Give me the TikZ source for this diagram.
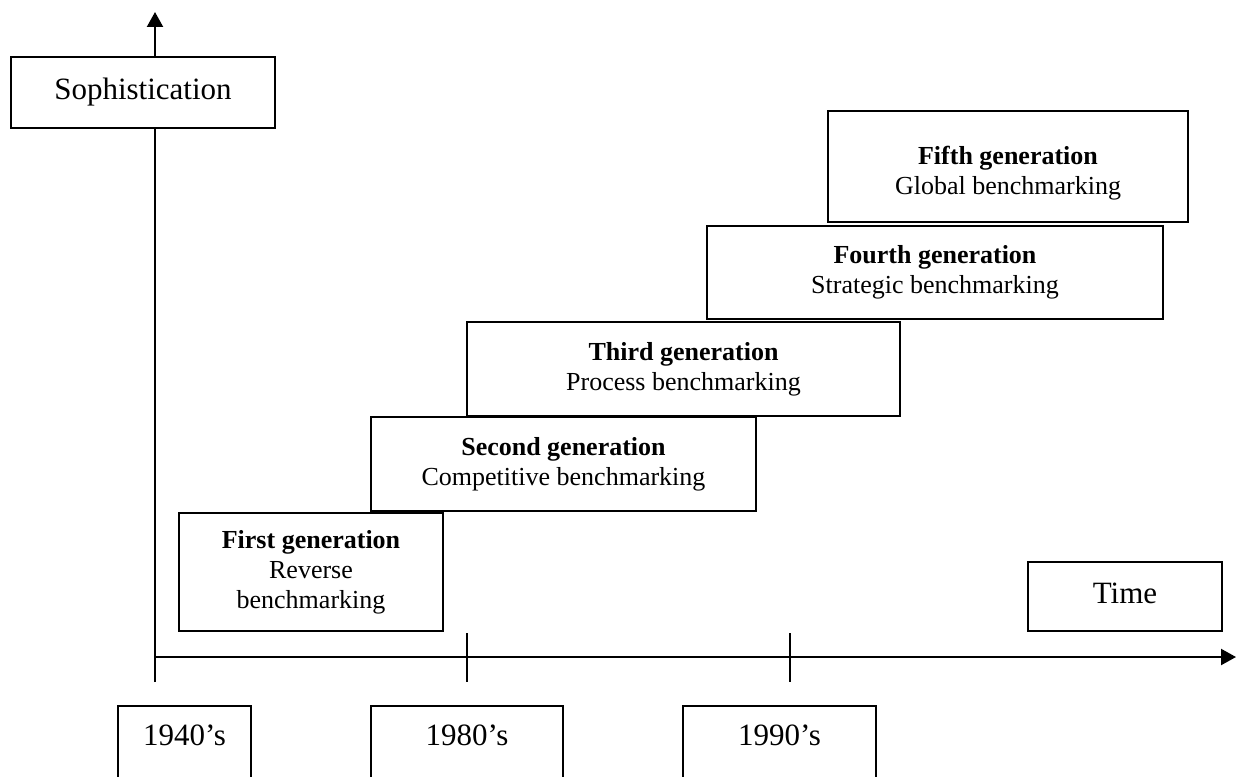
\documentclass[tikz,border=0pt]{standalone}
\usepackage{fontspec}
\setmainfont{Liberation Serif}
\usetikzlibrary{arrows.meta}
\begin{document}
\begin{tikzpicture}[x=1pt,y=-1pt,
  frame/.style={draw, line width=1.8pt, fill=white, inner sep=0pt},
  genbox/.style={frame, align=center, font=\fontsize{26}{30}\selectfont},
  bigbox/.style={frame, font=\fontsize{31}{36}\selectfont, text height=21pt, text depth=7pt},
  yearbox/.style={frame, anchor=north, font=\fontsize{31}{36}\selectfont, text height=40pt, text depth=80pt},
  axisline/.style={line width=2.2pt},
  tickline/.style={line width=2.2pt},
  arrowhead/.style={-{Triangle[length=15pt,width=16pt]}}]
\clip (0,0) rectangle (1236,776);
\fill[white] (0,0) rectangle (1236,776);

% axes and tick marks
\coordinate (origin) at (155,657);
\coordinate (ybot) at (155,682);
\coordinate (ytop) at (155,12);
\coordinate (xend) at (1236,657);
\coordinate (t80top) at (467,633);
\coordinate (t80bot) at (467,682);
\coordinate (t90top) at (790,633);
\coordinate (t90bot) at (790,682);
\draw[axisline, arrowhead] (ybot) -- (ytop);
\draw[axisline, arrowhead] (origin) -- (xend);
\draw[tickline] (t80top) -- (t80bot);
\draw[tickline] (t90top) -- (t90bot);

% axis labels
\node[bigbox, minimum width=264pt, minimum height=71pt] (soph) at (143,92.5) {Sophistication};
\node[bigbox, minimum width=194pt, minimum height=69pt] (time) at (1125,596.5) {Time};

% decades
\node[yearbox, minimum width=133pt] (y40) at (184.5,705) {1940’s};
\node[yearbox, minimum width=192pt] (y80) at (467,705) {1980’s};
\node[yearbox, minimum width=193pt] (y90) at (779.5,705) {1990’s};

% benchmarking generations (the top box has extra space above its text)
\node[genbox, minimum width=360pt, minimum height=111pt] (g5) at (1008,166.5)
  {\rule{0pt}{32pt}\textbf{Fifth generation}\\Global benchmarking};
\node[genbox, minimum width=456pt, minimum height=93pt] (g4) at (935,272.5)
  {\textbf{Fourth generation}\\Strategic benchmarking};
\node[genbox, minimum width=433pt, minimum height=94pt] (g3) at (683.5,369)
  {\textbf{Third generation}\\Process benchmarking};
\node[genbox, minimum width=385pt, minimum height=94pt] (g2) at (563.5,464)
  {\textbf{Second generation}\\Competitive benchmarking};
\node[genbox, minimum width=264pt, minimum height=118pt] (g1) at (311,572)
  {\textbf{First generation}\\Reverse\\benchmarking};
\end{tikzpicture}
\end{document}
